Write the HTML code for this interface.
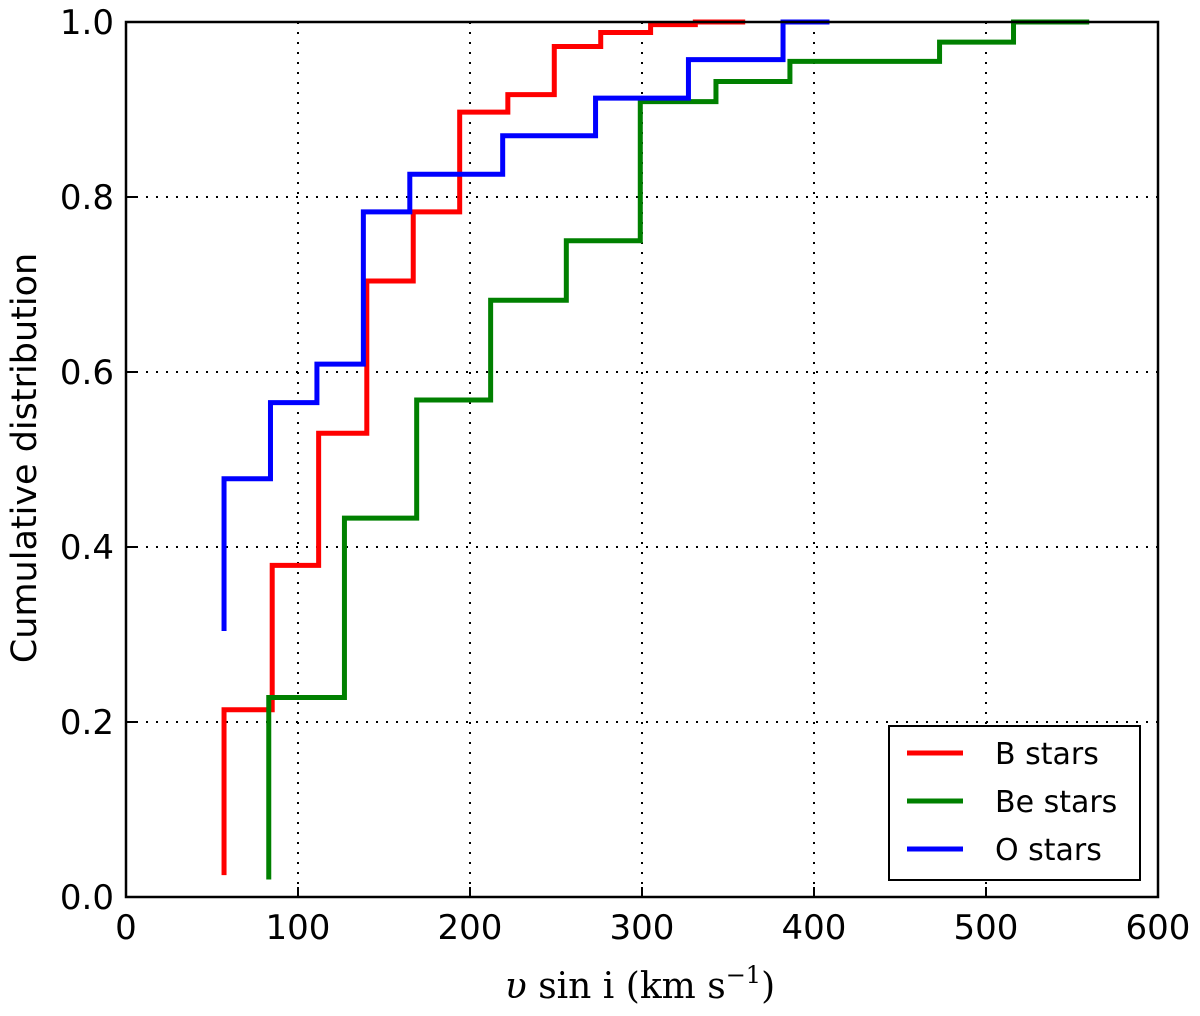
<!DOCTYPE html>
<html><head><meta charset="utf-8"><style>
body{margin:0;background:#fff;}
svg{display:block;font-family:"DejaVu Sans","Liberation Sans",sans-serif;}
</style></head><body>
<svg id="chart" width="1200" height="1016" viewBox="0 0 1200 1016">
<g id="grid"></g>
<g id="series"></g>
<rect x="126" y="22" width="1032" height="875" fill="none" stroke="#000" stroke-width="2.5"/>
<g id="ticks"></g>
<text transform="translate(36,458) rotate(-90)" text-anchor="middle" font-size="35">Cumulative distribution</text>
<text x="640" y="998" text-anchor="middle" font-size="36" font-family="'DejaVu Serif','Liberation Serif',serif"><tspan font-style="italic">υ</tspan> sin i (km s<tspan font-size="24" dy="-15">−1</tspan><tspan dy="15">)</tspan></text>
<g>
<rect x="889" y="726" width="251" height="154" fill="#fff" stroke="#000" stroke-width="2"/>
<line x1="907" y1="753" x2="963" y2="753" stroke="#ff0000" stroke-width="5"/>
<text x="995" y="764" font-size="30">B stars</text>
<line x1="907" y1="801" x2="963" y2="801" stroke="#008000" stroke-width="5"/>
<text x="995" y="812" font-size="30">Be stars</text>
<line x1="907" y1="849" x2="963" y2="849" stroke="#0000ff" stroke-width="5"/>
<text x="995" y="860" font-size="30">O stars</text>
</g>
</svg>
<script>
const xTicks=[0,100,200,300,400,500,600];
const yTicks=[0.0,0.2,0.4,0.6,0.8,1.0];
const bX=[57,85,112,140,167,194,222,249,276,305,331,360];
const bY=[0.025,0.214,0.379,0.53,0.704,0.783,0.897,0.917,0.972,0.988,0.997,1.0];
const beX=[83,127,169,212,256,299,343,386,473,516,560];
const beY=[0.02,0.228,0.433,0.568,0.682,0.75,0.909,0.932,0.955,0.977,1.0];
const oX=[57,84,111,138,165,219,273,327,382,409];
const oY=[0.304,0.478,0.565,0.609,0.783,0.826,0.870,0.913,0.957,1.0];
const NS="http://www.w3.org/2000/svg";
const X0=126,X1=1158,Y0=897,Y1=22;
const sx=v=>X0+(v-0)/(600-0)*(X1-X0);
const sy=v=>Y0-(v-0)/(1-0)*(Y0-Y1);
const grid=document.getElementById('grid'),ticks=document.getElementById('ticks'),ser=document.getElementById('series');
function mk(t,a,p){const e=document.createElementNS(NS,t);for(const k in a)e.setAttribute(k,a[k]);p.appendChild(e);return e;}
xTicks.forEach(v=>{
 if(v>0&&v<600){const g=mk('line',{x1:sx(v),x2:sx(v),y1:Y1,y2:Y0,stroke:'#000','stroke-width':2,'stroke-dasharray':'2,8'},grid);
 
 }
 const t=mk('line',{x1:sx(v),x2:sx(v),y1:Y0,y2:Y0-10,stroke:'#000','stroke-width':2},ticks);
 
 
 const l=mk('text',{x:sx(v),y:Y0+42,'text-anchor':'middle','font-size':34},ticks);l.textContent=v;
 
 
});
yTicks.forEach(v=>{
 if(v>0&&v<1){const g=mk('line',{x1:X0,x2:X1,y1:sy(v),y2:sy(v),stroke:'#000','stroke-width':2,'stroke-dasharray':'2,8'},grid);
 
 }
 const t=mk('line',{x1:X0,x2:X0+10,y1:sy(v),y2:sy(v),stroke:'#000','stroke-width':2},ticks);
 
 
 const l=mk('text',{x:X0-12,y:sy(v)+12,'text-anchor':'end','font-size':34},ticks);l.textContent=v.toFixed(1);
 
 
});
function step(xs,ys,color,name){
 let d='M'+sx(xs[0])+','+sy(ys[0]);
 for(let i=1;i<ys.length;i++){d+=' L'+sx(xs[i-1])+','+sy(ys[i])+' L'+sx(xs[i])+','+sy(ys[i]);}
 const p=mk('path',{d:d,fill:'none',stroke:color,'stroke-width':5},ser);
 
 
}
step(bX,bY,'#ff0000','b-stars-line');
step(beX,beY,'#008000','be-stars-line');
step(oX,oY,'#0000ff','o-stars-line');
</script>
</body></html>
